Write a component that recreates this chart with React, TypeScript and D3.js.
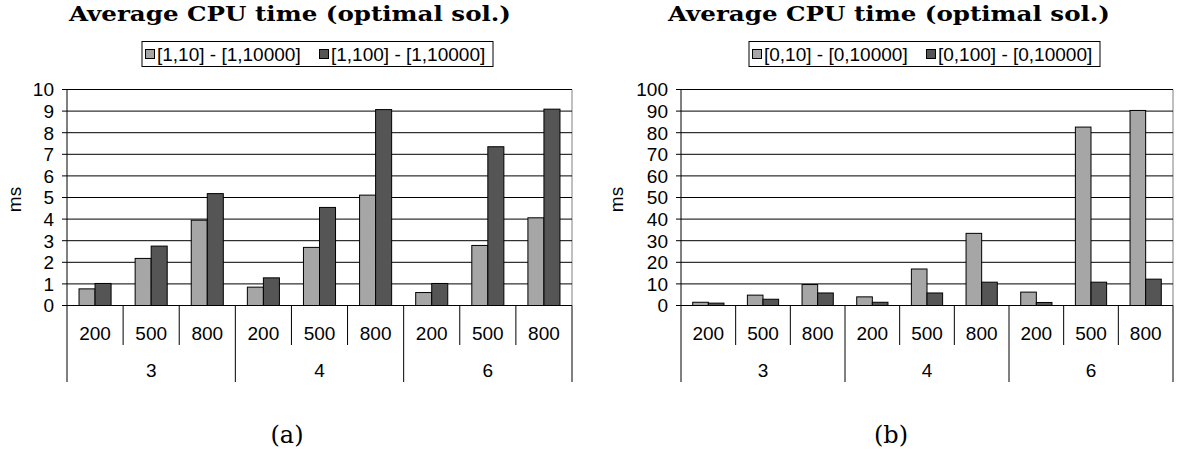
import React from "react";
import * as d3 from "d3";

const groups = ["3", "4", "6"];
const sizes = ["200", "500", "800"];

const seriesA = ["[1,10] - [1,10000]", "[1,100] - [1,10000]"];
const valuesA1 = [0.77, 2.18, 3.95, 0.85, 2.69, 5.11, 0.6, 2.78, 4.06];
const valuesA2 = [1.02, 2.75, 5.18, 1.28, 4.54, 9.07, 1.02, 7.35, 9.09];
const ticksA = [0, 1, 2, 3, 4, 5, 6, 7, 8, 9, 10];

const seriesB = ["[0,10] - [0,10000]", "[0,100] - [0,10000]"];
const valuesB1 = [1.5, 4.8, 9.7, 4.0, 16.9, 33.4, 6.2, 82.6, 90.3];
const valuesB2 = [1.1, 2.9, 5.8, 1.5, 5.8, 10.8, 1.4, 10.8, 12.2];
const ticksB = [0, 10, 20, 30, 40, 50, 60, 70, 80, 90, 100];

const LIGHT = "#a6a6a6";
const DARK = "#555555";
const SANS = "'Liberation Sans', Arial, sans-serif";
const SERIF = "'DejaVu Serif', 'Liberation Serif', serif";
const FS = 19;

type PanelProps = {
  x0: number;
  x1: number;
  yMax: number;
  ticks: number[];
  s1: number[];
  s2: number[];
  names: string[];
  titleX: number;
  legendX: number;
  msX: number;
  caption: string;
  captionX: number;
};

function Panel(p: PanelProps) {
  const top = 89.5;
  const zero = 305.5;
  const cats = groups.flatMap((g) => sizes.map((s) => `${g}-${s}`));
  const x = d3.scaleBand<string>().domain(cats).range([p.x0, p.x1]);
  const inner = d3.scaleBand<string>().domain(["a", "b"]).range([0, x.bandwidth()]).paddingOuter(0.75);
  const y = d3.scaleLinear().domain([0, p.yMax]).range([zero, top]);
  const bw = inner.bandwidth();
  const gw = x.bandwidth() * sizes.length;
  const legendW = 351;
  const itemW = 174;

  return (
    <g>
      <text
        x={p.titleX}
        y={20.5}
        textAnchor="middle"
        fontFamily={SERIF}
        fontWeight="bold"
        fontSize={21}
        textLength={442}
        lengthAdjust="spacingAndGlyphs"
      >
        Average CPU time (optimal sol.)
      </text>
      {/* legend */}
      <rect x={p.legendX} y={41.5} width={legendW} height={25} fill="white" stroke="black" />
      {p.names.map((n, i) => {
        const lx = p.legendX + 3 + i * itemW;
        return (
          <g key={n}>
            <rect x={lx + 0.5} y={49.5} width={9} height={9} fill={i === 0 ? LIGHT : DARK} stroke="black" />
            <text x={lx + 12} y={61} fontFamily={SANS} fontSize={FS}>
              {n}
            </text>
          </g>
        );
      })}
      {/* plot frame & grid */}
      <line x1={p.x1} x2={p.x1} y1={top} y2={zero} stroke="#808080" />
      {p.ticks.map((t) => (
        <g key={t}>
          <line x1={p.x0 - 5} x2={p.x1} y1={y(t)} y2={y(t)} stroke="black" />
          <text x={p.x0 - 13} y={y(t) + 6.8} textAnchor="end" fontFamily={SANS} fontSize={FS}>
            {t}
          </text>
        </g>
      ))}
      <text
        transform={`translate(${p.msX},${(top + zero) / 2 + 2}) rotate(-90)`}
        textAnchor="middle"
        dominantBaseline="central"
        fontFamily={SANS}
        fontSize={FS}
      >
        ms
      </text>
      {/* bars */}
      {cats.map((c, i) => (
        <g key={c}>
          <rect
            x={(x(c) as number) + (inner("a") as number)}
            y={y(p.s1[i])}
            width={bw}
            height={zero - y(p.s1[i])}
            fill={LIGHT}
            stroke="black"
          />
          <rect
            x={(x(c) as number) + (inner("b") as number)}
            y={y(p.s2[i])}
            width={bw}
            height={zero - y(p.s2[i])}
            fill={DARK}
            stroke="black"
          />
        </g>
      ))}
      <line x1={p.x0} x2={p.x0} y1={top} y2={zero} stroke="black" />
      {/* category axis */}
      {cats.map((c, i) => {
        const xl = x(c) as number;
        const isGroupStart = i % sizes.length === 0;
        return (
          <g key={c}>
            <line x1={xl} x2={xl} y1={zero} y2={isGroupStart ? 382 : 345} stroke="black" />
            <text x={xl + x.bandwidth() / 2} y={340} textAnchor="middle" fontFamily={SANS} fontSize={FS}>
              {sizes[i % sizes.length]}
            </text>
          </g>
        );
      })}
      <line x1={p.x1} x2={p.x1} y1={zero} y2={382} stroke="black" />
      {groups.map((g, gi) => (
        <text key={g} x={p.x0 + gw * gi + gw / 2} y={377} textAnchor="middle" fontFamily={SANS} fontSize={FS}>
          {g}
        </text>
      ))}
      <text x={p.captionX} y={443} textAnchor="middle" fontFamily={SERIF} fontSize={24}>
        {p.caption}
      </text>
    </g>
  );
}

export default function App() {
  return (
    <svg width={1183} height={461} style={{ position: "absolute", left: 0, top: 0, background: "white" }}>
      <rect width={1183} height={461} fill="white" />
      <Panel
        x0={67}
        x1={572}
        yMax={10}
        ticks={ticksA}
        s1={valuesA1}
        s2={valuesA2}
        names={seriesA}
        titleX={290}
        legendX={142}
        msX={14}
        caption="(a)"
        captionX={287}
      />
      <Panel
        x0={681}
        x1={1173}
        yMax={100}
        ticks={ticksB}
        s1={valuesB1}
        s2={valuesB2}
        names={seriesB}
        titleX={889}
        legendX={749}
        msX={616}
        caption="(b)"
        captionX={891}
      />
    </svg>
  );
}
